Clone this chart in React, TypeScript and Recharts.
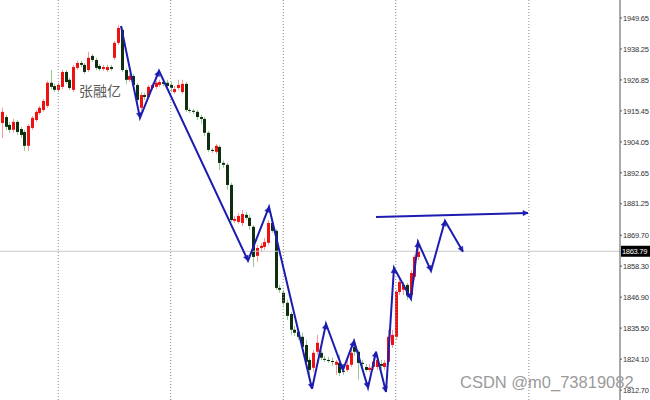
import { ComposedChart, Bar, Line, XAxis, YAxis, ReferenceLine } from "recharts";

// XAUUSD-style candles, one bar per index, red = up / dark green = down
const opens = [
  1911.0, 1913.2, 1910.3, 1908.5, 1911.4, 1908.8, 1907.7, 1902.6, 1909.2, 1912.1,
  1914.7, 1915.8, 1917.3, 1925.8, 1924.6, 1923.2, 1924.3, 1929.8, 1926.9, 1923.2,
  1931.3, 1933.1, 1932.4, 1930.5, 1935.7, 1934.2, 1932.0, 1930.9, 1930.5, 1931.6,
  1935.0, 1940.5, 1945.3, 1930.5, 1926.9, 1928.3, 1925.0, 1916.6, 1921.3, 1920.6,
  1923.9, 1924.3, 1925.0, 1926.1, 1925.8, 1925.0, 1922.4, 1923.9, 1922.4, 1925.4,
  1915.8, 1915.5, 1915.1, 1913.2, 1912.5, 1907.4, 1901.1, 1900.4, 1902.2, 1896.3,
  1895.6, 1888.2, 1875.0, 1874.6, 1874.2, 1877.2, 1876.1, 1872.8, 1862.1, 1865.0,
  1865.4, 1866.9, 1874.2, 1871.3, 1850.3, 1848.5, 1844.8, 1840.7, 1834.9, 1834.1,
  1832.3, 1829.3, 1823.8, 1820.9, 1826.8, 1826.4, 1824.2, 1823.8, 1823.4, 1822.0,
  1822.7, 1819.8, 1820.1, 1822.0, 1828.6, 1826.8, 1822.7, 1821.2, 1820.1, 1821.2,
  1821.2, 1822.3, 1821.2, 1823.1, 1829.3, 1832.3, 1848.8, 1849.6, 1851.4, 1847.7,
  1854.4, 1861.7,
];
const closes = [
  1915.1, 1909.6, 1908.5, 1911.4, 1907.7, 1906.6, 1902.6, 1909.9, 1912.9, 1915.1,
  1916.6, 1919.1, 1925.8, 1924.3, 1923.2, 1925.0, 1929.8, 1926.1, 1923.9, 1931.6,
  1933.1, 1932.4, 1929.8, 1935.0, 1934.2, 1931.3, 1930.9, 1931.6, 1931.6, 1930.9,
  1940.5, 1946.0, 1930.5, 1926.9, 1928.3, 1925.0, 1919.5, 1921.3, 1920.6, 1924.3,
  1925.0, 1925.8, 1926.1, 1925.4, 1924.6, 1923.9, 1923.5, 1925.0, 1925.4, 1915.8,
  1915.5, 1915.1, 1913.2, 1912.5, 1907.4, 1901.1, 1900.7, 1902.6, 1896.3, 1895.6,
  1888.2, 1875.3, 1875.7, 1876.8, 1877.5, 1876.1, 1873.1, 1861.7, 1865.0, 1865.8,
  1867.2, 1874.2, 1871.3, 1850.3, 1849.6, 1844.8, 1840.0, 1834.9, 1833.8, 1832.3,
  1828.6, 1823.1, 1820.1, 1826.4, 1830.1, 1824.6, 1823.8, 1823.4, 1823.1, 1823.1,
  1819.0, 1819.4, 1822.0, 1826.4, 1826.8, 1822.7, 1822.3, 1820.1, 1820.9, 1823.1,
  1823.8, 1821.6, 1822.7, 1832.3, 1833.0, 1848.8, 1852.5, 1851.4, 1847.7, 1855.8,
  1861.7, 1863.79,
];
const highs = [
  1916.6, 1914.0, 1911.4, 1912.5, 1912.1, 1909.6, 1908.5, 1910.7, 1913.6, 1915.8,
  1917.3, 1919.9, 1926.5, 1930.5, 1925.4, 1925.8, 1930.5, 1930.5, 1927.6, 1932.4,
  1933.9, 1933.9, 1933.1, 1937.2, 1936.4, 1935.0, 1932.7, 1932.4, 1932.4, 1932.4,
  1941.2, 1947.1, 1946.4, 1931.3, 1929.1, 1929.1, 1925.8, 1922.4, 1922.1, 1925.0,
  1925.8, 1926.5, 1926.9, 1926.9, 1926.9, 1926.1, 1924.6, 1926.9, 1926.9, 1926.1,
  1916.6, 1916.2, 1915.8, 1914.0, 1913.2, 1908.1, 1901.8, 1903.3, 1902.9, 1897.1,
  1896.3, 1889.0, 1876.8, 1877.9, 1879.0, 1878.3, 1877.2, 1873.5, 1866.1, 1866.9,
  1868.7, 1875.3, 1875.3, 1872.0, 1851.4, 1849.6, 1845.9, 1841.5, 1836.3, 1835.2,
  1833.8, 1831.2, 1824.9, 1827.5, 1833.0, 1827.5, 1825.3, 1824.9, 1824.6, 1823.8,
  1825.7, 1820.9, 1823.8, 1828.2, 1830.4, 1827.5, 1823.8, 1822.3, 1822.3, 1824.6,
  1825.3, 1823.8, 1823.8, 1834.9, 1834.9, 1849.6, 1854.0, 1852.5, 1852.2, 1856.9,
  1862.5, 1868.0,
];
const lows = [
  1905.5, 1908.5, 1907.4, 1907.4, 1906.6, 1905.5, 1900.7, 1900.7, 1908.5, 1911.4,
  1914.0, 1915.1, 1916.6, 1923.5, 1922.4, 1922.4, 1923.5, 1925.4, 1923.2, 1922.4,
  1930.5, 1931.6, 1929.1, 1929.8, 1933.5, 1930.5, 1930.2, 1930.2, 1929.8, 1930.2,
  1934.2, 1939.7, 1929.8, 1925.4, 1926.1, 1923.2, 1917.7, 1914.0, 1919.5, 1919.9,
  1923.2, 1923.5, 1924.3, 1924.6, 1923.9, 1922.4, 1921.7, 1923.2, 1921.7, 1915.1,
  1914.7, 1914.3, 1912.1, 1910.7, 1906.2, 1900.4, 1900.0, 1899.6, 1893.7, 1894.5,
  1886.4, 1874.6, 1874.2, 1873.9, 1873.1, 1875.3, 1871.7, 1858.0, 1859.9, 1863.6,
  1864.3, 1866.1, 1870.6, 1849.6, 1848.5, 1843.7, 1838.5, 1833.0, 1832.6, 1831.2,
  1826.8, 1822.0, 1818.3, 1819.4, 1825.7, 1823.8, 1823.1, 1822.7, 1821.6, 1818.3,
  1817.9, 1818.3, 1819.4, 1821.2, 1825.3, 1816.5, 1820.9, 1819.4, 1819.4, 1820.1,
  1820.1, 1820.5, 1820.1, 1822.0, 1828.2, 1831.2, 1847.7, 1847.7, 1845.9, 1846.6,
  1853.3, 1860.6,
];

// hand-drawn zigzag (bar index, price)
const zigIdx = [31.73, 36.8, 41.87, 65.6, 71.2, 82.67, 86.4, 90.93, 93.87, 97.6, 99.73, 102.4, 104.53, 109.07, 110.93, 114.4, 118.13, 122.93];
const zigPrice = [1946.7, 1912.9, 1930.2, 1860.3, 1880.1, 1813.2, 1837.1, 1820.1, 1830.8, 1813.5, 1826.8, 1812.0, 1857.7, 1846.3, 1867.2, 1856.6, 1875.0, 1863.6];

// resistance line
const levelIdx = [99.73, 140.27];
const levelPrice = [1876.4, 1877.9];

const priceTicks = [1949.65, 1938.25, 1926.85, 1915.45, 1904.05, 1892.65, 1881.25, 1869.7, 1858.3, 1846.9, 1835.5, 1824.1, 1812.7];
const separators = [15, 45, 75, 105, 140.5];
const lastPrice = 1863.79;

const candles = opens.map((o, i) => ({
  i,
  o,
  c: closes[i],
  h: highs[i],
  l: lows[i],
  range: [lows[i], highs[i]],
}));
const zigzag = zigIdx.map((i, k) => ({ i, p: zigPrice[k] }));
const level = levelIdx.map((i, k) => ({ i, p: levelPrice[k] }));

const BLUE = "#1c1cb0";
const PX_PER_BAR = 3.75;
const PX_PER_PRICE = 400 / (1956.28 - 1809.04);

const Candle = (props: any) => {
  const { x, y, width, height, payload } = props;
  const { o, c, h, l } = payload;
  const up = c >= o;
  const k = height / (h - l || 1);
  const cx = Math.round(x + width / 2) + 0.5;
  const top = y + (h - Math.max(o, c)) * k;
  const bot = y + (h - Math.min(o, c)) * k;
  return (
    <g>
      <line x1={cx} x2={cx} y1={y} y2={y + height} stroke={up ? "#f39a9a" : "#92cc92"} strokeWidth={1} />
      <rect x={cx - 1.5} y={top} width={3} height={Math.max(bot - top, 1)} fill={up ? "#ee1111" : "#0f3010"} />
    </g>
  );
};

const arrowDot = (rows: { i: number; p: number }[], onlyLast: boolean) => (props: any) => {
  const { cx, cy, index } = props;
  if (index === 0 || (onlyLast && index !== rows.length - 1)) return <g key={`d${index}`} />;
  const dx = (rows[index].i - rows[index - 1].i) * PX_PER_BAR;
  const dy = -(rows[index].p - rows[index - 1].p) * PX_PER_PRICE;
  const len = Math.hypot(dx, dy) || 1;
  const ux = dx / len;
  const uy = dy / len;
  const L = 5;
  const hw = 2.6;
  const bx = cx - ux * L;
  const by = cy - uy * L;
  const d = `M${cx},${cy} L${bx - uy * hw},${by + ux * hw} L${bx + uy * hw},${by - ux * hw} Z`;
  return <path key={`d${index}`} d={d} fill={BLUE} stroke={BLUE} strokeWidth={0.5} />;
};

const PriceTag = (props: any) => {
  const { viewBox } = props;
  const x = viewBox.x + viewBox.width;
  const y = viewBox.y;
  return (
    <g>
      <rect x={x + 1} y={y - 5.5} width={29} height={11} fill="#000" />
      <text x={x + 2} y={y + 3} fontSize={7.5} fill="#fff" fontFamily="Liberation Sans" letterSpacing={-0.3}>
        {lastPrice.toFixed(2)}
      </text>
    </g>
  );
};

export default function App() {
  return (
    <div style={{ position: "absolute", left: 0, top: 0, width: 650, height: 400, background: "#fff" }}>
      <ComposedChart
        width={650}
        height={400}
        data={candles}
        margin={{ top: 0, right: 0, bottom: 0, left: 0 }}
        style={{ fontFamily: "Liberation Sans" }}
      >
        <XAxis dataKey="i" type="number" domain={[-0.533, 164.8]} allowDataOverflow hide />
        <YAxis
          orientation="right"
          width={30}
          type="number"
          domain={[1809.04, 1956.28]}
          allowDataOverflow
          ticks={priceTicks}
          tickFormatter={(v: number) => v.toFixed(2)}
          stroke="#555"
          tickSize={2}
          tickMargin={1}
          tick={{ fontSize: 7.5, fill: "#333", letterSpacing: -0.2 }}
          interval={0}
        />
        {separators.map((s) => (
          <ReferenceLine key={s} x={s} stroke="#8a8a8a" strokeDasharray="1 2" />
        ))}
        <ReferenceLine y={lastPrice} stroke="#c8c8c8" />
        <Bar dataKey="range" barSize={3} shape={Candle} isAnimationActive={false} />
        <Line
          data={zigzag}
          dataKey="p"
          type="linear"
          stroke={BLUE}
          strokeWidth={2}
          dot={arrowDot(zigzag, false)}
          activeDot={false}
          isAnimationActive={false}
        />
        <Line
          data={level}
          dataKey="p"
          type="linear"
          stroke={BLUE}
          strokeWidth={2}
          dot={arrowDot(level, true)}
          activeDot={false}
          isAnimationActive={false}
        />
        <ReferenceLine y={lastPrice} stroke="none" label={<PriceTag />} />
      </ComposedChart>
      <svg width={650} height={400} style={{ position: "absolute", left: 0, top: 0, pointerEvents: "none" }}>
        <text x={79} y={96} fontSize={14} fill="#5a5a5a" fontFamily="Noto Sans CJK SC">
          张融亿
        </text>
        <text x={460} y={388} fontSize={16.5} fill="#9a9a9a" fontFamily="Liberation Sans">
          CSDN @m0_73819082
        </text>
      </svg>
    </div>
  );
}
